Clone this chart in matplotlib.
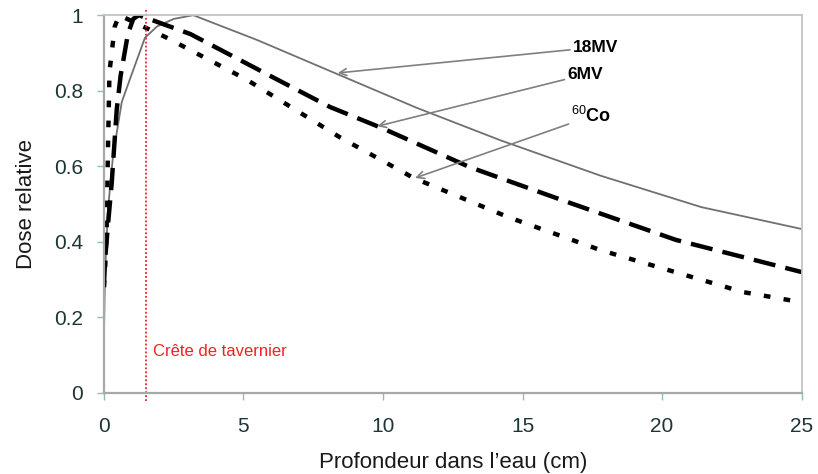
import matplotlib
matplotlib.use("Agg")
import matplotlib.pyplot as plt

plt.rcParams["font.family"] = ["Liberation Sans", "DejaVu Sans"]
plt.rcParams["mathtext.fontset"] = "custom"
plt.rcParams["mathtext.rm"] = "Liberation Sans"
plt.rcParams["mathtext.bf"] = "Liberation Sans:bold"

# Data
depth_18mv = [0, 0.04, 0.14, 0.33, 0.64, 0.93, 1.47, 1.9, 2.5, 3.2, 5.5, 8.3, 11.2, 14.2, 17.8, 21.4, 25]
dose_18mv = [0.15, 0.31, 0.48, 0.63, 0.77, 0.83, 0.94, 0.97, 0.99, 1.0, 0.934, 0.846, 0.755, 0.669, 0.575, 0.492, 0.434]

depth_6mv = [0, 0.04, 0.14, 0.28, 0.46, 0.6, 0.86, 1.05, 1.25, 3.1, 6.2, 8.1, 10, 13.1, 16.7, 20.5, 25]
dose_6mv = [0.28, 0.35, 0.44, 0.555, 0.75, 0.84, 0.95, 0.99, 1.0, 0.95, 0.83, 0.757, 0.70, 0.598, 0.503, 0.405, 0.32]

depth_co = [0, 0.05, 0.1, 0.14, 0.2, 0.39, 0.55, 2.26, 5.1, 8.45, 11.1, 14.5, 17.8, 22.9, 25]
dose_co = [0.28, 0.34, 0.44, 0.62, 0.85, 0.97, 1.0, 0.94, 0.83, 0.677, 0.569, 0.465, 0.378, 0.267, 0.24]

x_ticks = [0, 5, 10, 15, 20, 25]
y_ticks = [0, 0.2, 0.4, 0.6, 0.8, 1]
y_tick_labels = ["0", "0.2", "0.4", "0.6", "0.8", "1"]
tavernier_depth = 1.5

fig = plt.figure(figsize=(8.18, 4.74), dpi=100)
ax = fig.add_axes([0.127, 0.171, 0.853, 0.797])

ax.plot(depth_18mv, dose_18mv, color="#707070", lw=1.3, solid_joinstyle="round")
ax.plot(depth_6mv, dose_6mv, color="black", lw=3.2, dashes=(5, 2.3), solid_capstyle="butt")
ax.plot(depth_co, dose_co, color="black", lw=3.2, dashes=(1.5, 3.0), solid_capstyle="butt")

ax.axvline(tavernier_depth, ymin=-0.02, ymax=1.015, color="#ee2222", lw=1.3, ls=(0, (1, 1.2)), clip_on=False)
ax.text(1.75, 0.11, "Crête de tavernier", color="#ee2222", fontsize=12, ha="left", va="center")

ax.set_xlim(0, 25)
ax.set_ylim(0, 1)
ax.set_xticks(x_ticks)
ax.set_yticks(y_ticks)
ax.set_yticklabels(y_tick_labels)

for s in ["left", "bottom"]:
    ax.spines[s].set_color("#a8a8a8")
    ax.spines[s].set_linewidth(1.6)
for s in ["top", "right"]:
    ax.spines[s].set_color("#c4c4c4")
    ax.spines[s].set_linewidth(1.3)

ax.tick_params(axis="both", direction="out", length=5, width=1, color="#8fbcbc",
               labelcolor="#1e3535", labelsize=15)
ax.tick_params(axis="x", pad=12)
ax.tick_params(axis="y", pad=10)

ax.set_xlabel("Profondeur dans l\u2019eau (cm)", fontsize=16, color="#1a1a1a", labelpad=12)
ax.set_ylabel("Dose relative", fontsize=16, color="#1a1a1a", labelpad=12)

arrowprops = dict(arrowstyle="->", color="#808080", lw=1.2, shrinkA=0, shrinkB=0)
ax.annotate("18MV", xy=(8.38, 0.847), xytext=(16.8, 0.915), fontsize=12.5, fontweight="bold",
            ha="left", va="center", arrowprops=arrowprops)
ax.annotate("6MV", xy=(9.8, 0.706), xytext=(16.6, 0.843), fontsize=12.5, fontweight="bold",
            ha="left", va="center", arrowprops=arrowprops)
ax.annotate(r"$^{60}\mathbf{Co}$", xy=(11.15, 0.569), xytext=(16.75, 0.733), fontsize=13,
            ha="left", va="center", arrowprops=arrowprops)

fig.savefig("out.png", dpi=100)
